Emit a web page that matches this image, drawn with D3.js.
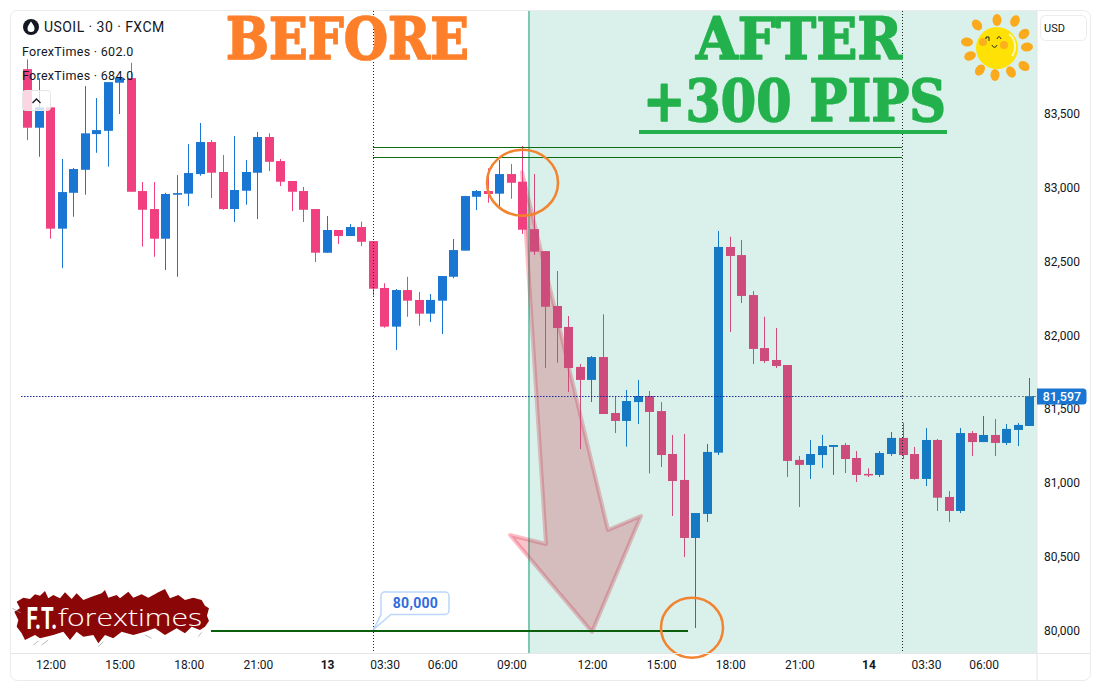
<!DOCTYPE html>
<html><head><meta charset="utf-8">
<style>html,body{margin:0;padding:0;background:#fff;overflow:hidden}svg{display:block}text{font-family:Roboto,"Noto Sans",sans-serif}</style>
<script src="https://cdn.jsdelivr.net/npm/d3@7"></script></head><body><div id="c"></div>
<script>
const opens=[83804,83407,83545,82723,82966,83122,83364,83386,83712,83743,82978,82856,82655,82953,82960,83093,83310,83107,82856,82980,83102,83344,83181,83046,82978,82856,82560,82714,82673,82734,82639,82321,82059,82307,82240,82147,82235,82397,82574,82939,82978,82960,83093,83041,82720,82571,82199,82057,81786,81698,81853,81474,81420,81548,81589,81487,81196,81020,80627,80790,81205,82599,82544,82273,81914,81833,81799,81156,81122,81189,81244,81257,81169,81061,81054,81196,81305,81196,81027,81291,80905,80810,81338,81277,81325,81271,81359,81386];
const highs=[83870,83743,83545,83195,83134,83689,83608,83716,83748,83847,83039,83039,82966,83086,83296,83439,83323,83222,83351,83188,83378,83369,83195,83046,83006,82856,82809,82714,82754,82770,82639,82353,82314,82397,82294,82280,82402,82653,82946,82985,83132,83188,83161,83283,83093,82571,82436,82131,81806,81860,82143,81589,81630,81698,81623,81548,81325,81332,80796,81264,82707,82668,82646,82300,82126,82050,81799,81183,81291,81325,81257,81271,81216,81099,81216,81345,81408,81244,81372,81298,80945,81372,81352,81454,81433,81399,81406,81711];
const lows=[83323,83210,82655,82456,82804,82953,83237,83143,83500,82973,82601,82533,82443,82397,82876,83082,82931,82851,82768,82885,82788,83113,83012,82842,82768,82497,82560,82619,82673,82605,82270,82052,81901,82126,82065,82090,82009,82387,82574,82849,82899,82876,82926,82687,82544,81779,81815,81616,81230,81548,81467,81338,81246,81399,81065,81108,80776,80498,80017,80735,81189,82023,82219,81806,81813,81779,81040,80837,81027,81101,81054,81067,81006,81040,81040,81183,81162,81022,80979,80810,80735,80796,81183,81277,81183,81257,81250,81386];
const closes=[83407,83545,82723,82971,83127,83369,83391,83716,83746,82973,82851,82655,82958,82964,83100,83310,83102,82856,82985,83107,83344,83176,83041,82973,82851,82560,82714,82673,82734,82634,82316,82059,82307,82235,82147,82240,82402,82578,82944,82978,82958,83093,83034,82716,82567,82194,82050,81779,81698,81853,81467,81420,81555,81589,81481,81189,81013,80627,80796,81210,82599,82538,82267,81908,81826,81792,81149,81122,81196,81250,81257,81162,81054,81052,81203,81305,81189,81027,81291,80900,80810,81338,81277,81325,81271,81366,81393,81589];
const priceTicks=[83500,83000,82500,82000,81500,81000,80500,80000];
const timeTickBars=[2,8,14,20,26,31,36,42,49,55,61,67,73,78,83];
const timeTickLabels=["12:00","15:00","18:00","21:00","13","03:30","06:00","09:00","12:00","15:00","18:00","21:00","14","03:30","06:00"];
const topLevels=[83276,83212];
const targetLevel=80000;
const lastPrice=81589;
const lastPriceLabel="81,597";
const bars=d3.range(opens.length);
const W=1103,H=690;
const UP="#1976d2",DOWN="#f0407f";
const svg=d3.select("#c").append("svg").attr("width",W).attr("height",H);
const x=d3.scaleLinear().domain([0,87]).range([27.5,1029.74]);
const y=d3.scaleLinear().domain([80000,83500]).range([630.5,114]);
const fmt=d3.format(",");
// card
svg.append("rect").attr("x",10.5).attr("y",10.5).attr("width",1080).attr("height",670).attr("rx",7).attr("fill","#fff").attr("stroke","#ebebeb");
// before-shade layers
const vx=529;
svg.append("line").attr("x1",vx).attr("x2",vx).attr("y1",11).attr("y2",653).attr("stroke","#91d2be").attr("stroke-width",2);
svg.append("path").attr("d","M522,172L608,530L641,516L592,632L510,535L546,544Z").attr("fill","rgba(235,20,50,.25)").attr("stroke","rgba(235,30,60,.28)").attr("stroke-width",4).attr("stroke-linejoin","round");
// candles
const g=svg.append("g");
g.selectAll("rect.w").data(bars).join("rect").attr("class","w")
 .attr("x",i=>Math.floor(x(i))).attr("width",1)
 .attr("y",i=>y(highs[i])).attr("height",i=>Math.max(1,y(lows[i])-y(highs[i])))
 .attr("fill",i=>closes[i]>=opens[i]?UP:DOWN);
g.selectAll("rect.b").data(bars).join("rect").attr("class","b")
 .attr("x",i=>Math.floor(x(i))-4).attr("width",9)
 .attr("y",i=>y(Math.max(opens[i],closes[i])))
 .attr("height",i=>Math.max(1.5,Math.abs(y(opens[i])-y(closes[i]))))
 .attr("fill",i=>closes[i]>=opens[i]?UP:DOWN);
// after shade
svg.append("rect").attr("x",528).attr("y",11).attr("width",1037-528).attr("height",642).attr("fill","rgba(0,153,112,.147)");
// dotted verticals
[373.5,902.5].forEach(v=>svg.append("line").attr("x1",v).attr("x2",v).attr("y1",11).attr("y2",653).attr("stroke","#222").attr("stroke-dasharray","1,2"));
// price line
const ly=Math.round(y(lastPrice))+.5;
svg.append("line").attr("x1",21).attr("x2",902).attr("y1",ly).attr("y2",ly).attr("stroke","#1a2a9c").attr("stroke-dasharray","1.5,1.5");
svg.append("line").attr("x1",902).attr("x2",1037).attr("y1",ly).attr("y2",ly).attr("stroke","#6b7f98").attr("stroke-dasharray","2,2");
// green levels
topLevels.forEach(p=>{const v=Math.round(y(p))+.5;svg.append("line").attr("x1",373).attr("x2",902).attr("y1",v).attr("y2",v).attr("stroke","#0f6b14").attr("stroke-width",1);});
svg.append("line").attr("x1",211).attr("x2",688).attr("y1",y(targetLevel)+.5).attr("y2",y(targetLevel)+.5).attr("stroke","#0b5e0b").attr("stroke-width",2);
// callout
const cy=y(targetLevel);
svg.append("path").attr("d",`M386,${cy-38.5}H445a4,4 0 0 1 4,4V${cy-20}a4,4 0 0 1 -4,4H391L373.5,${cy-1}L381,${cy-16}V${cy-34.5}a4,4 0 0 1 5,-4Z`).attr("fill","#fff").attr("stroke","#bbd6fb").attr("stroke-width",1.5);
svg.append("text").attr("x",415.5).attr("y",cy-22.5).attr("text-anchor","middle").attr("font-size",14).attr("font-weight",700).attr("letter-spacing",.3).attr("fill","#2f6be0").text(fmt(targetLevel));
// circles
svg.append("ellipse").attr("cx",522.5).attr("cy",182.7).attr("rx",35.5).attr("ry",33).attr("fill","none").attr("stroke","#f28430").attr("stroke-width",2.5);
svg.append("ellipse").attr("cx",692).attr("cy",627.7).attr("rx",31).attr("ry",30).attr("fill","none").attr("stroke","#f28430").attr("stroke-width",2.5);
// axes frames
svg.append("line").attr("x1",1037).attr("x2",1037).attr("y1",11).attr("y2",680).attr("stroke","#e6e6e6");
svg.append("line").attr("x1",11).attr("x2",1090).attr("y1",653.5).attr("y2",653.5).attr("stroke","#e6e6e6");
// price axis
const ya=svg.append("g").attr("transform","translate(1044,0)").call(d3.axisRight(y).tickValues(priceTicks).tickSize(0).tickPadding(0).tickFormat(fmt));
ya.select(".domain").remove();
ya.selectAll("text").attr("font-size",12).attr("fill","#131722").style("font-family","Roboto");
// last price tag
svg.append("path").attr("d",`M1037,${ly-8}H1083a3.5,3.5 0 0 1 3.5,3.5V${ly+4.5}a3.5,3.5 0 0 1 -3.5,3.5H1037Z`).attr("fill","#1976d2");
svg.append("text").attr("x",1062).attr("y",ly+4.5).attr("text-anchor","middle").attr("font-size",12.5).attr("font-weight",500).attr("fill","#fff").text(lastPriceLabel);
// USD
svg.append("rect").attr("x",1040.5).attr("y",15.5).attr("width",46).attr("height",25).attr("rx",5).attr("fill","#fff").attr("stroke","#ececec");
svg.append("text").attr("x",1044).attr("y",32).attr("font-size",11).attr("fill","#131722").text("USD");
// time axis
const xa=svg.append("g").attr("transform","translate(0,654)").call(d3.axisBottom(x).tickValues(timeTickBars).tickSize(0).tickPadding(6).tickFormat((d,i)=>timeTickLabels[i]));
xa.select(".domain").remove();
xa.selectAll("text").attr("font-size",12).attr("fill","#131722").style("font-family","Roboto").attr("font-weight",(d,i)=>timeTickLabels[i].length<3?700:400);
// header
svg.append("circle").attr("cx",31).attr("cy",27).attr("r",8).attr("fill","#131722");
svg.append("path").attr("d","M31,21.5C33,24.5 34.5,26 34.5,28.5A3.5,3.5 0 0 1 27.5,28.5C27.5,26 29,24.5 31,21.5Z").attr("fill","#fff");
svg.append("text").attr("x",44).attr("y",32).attr("font-size",14).attr("letter-spacing",.45).attr("fill","#131722").text("USOIL · 30 · FXCM");
svg.append("text").attr("x",22).attr("y",56).attr("font-size",12.5).attr("letter-spacing",.3).attr("fill","#131722").text("ForexTimes · 602.0");
svg.append("text").attr("x",22).attr("y",80).attr("font-size",12.5).attr("letter-spacing",.3).attr("fill","#131722").text("ForexTimes · 684.0");
svg.append("rect").attr("x",22.5).attr("y",90.5).attr("width",28).attr("height",20).attr("rx",3).attr("fill","rgba(255,255,255,.78)").attr("stroke","#e6e6e6");
svg.append("path").attr("d","M32.5,103L36.5,99L40.5,103").attr("fill","none").attr("stroke","#131722").attr("stroke-width",1.3);
// banners
function banner(t,px,py,len,col){
 svg.append("text").attr("x",px).attr("y",py).attr("font-size",58).attr("font-weight",700)
  .style("font-family","'DejaVu Serif',serif").style("filter",`drop-shadow(.7px .8px 0 #fff) drop-shadow(.7px .8px 0 ${col})`)
  .attr("textLength",len).attr("lengthAdjust","spacingAndGlyphs").attr("fill",col).attr("stroke",col).attr("stroke-width",1.4).attr("stroke-linejoin","round").text(t);
}
banner("BEFORE",226,58.5,243,"#fd7f2a");
banner("AFTER",696,58.5,206,"#22b14c");
banner("+300 PIPS",643,121,303,"#22b14c");
svg.append("rect").attr("x",639).attr("y",130).attr("width",308).attr("height",4).attr("fill","#22b14c");
// sun
const sun=svg.append("g").attr("transform","translate(997,48)");
[[0,-28,0],[18,-27,25],[27,-14,50],[30,-1,85],[27,18,125],[14,24,150],[-2,27,180],[-17,22,215],[-27,8,250],[-30,-6,275],[-20,-23,320]].forEach(r=>{
 sun.append("ellipse").attr("cx",r[0]).attr("cy",r[1]).attr("rx",4.5).attr("ry",6).attr("transform",`rotate(${r[2]} ${r[0]} ${r[1]})`).attr("fill","#fba91d");
});
sun.append("circle").attr("r",21).attr("fill","#ffe106");
sun.append("path").attr("d","M12,-14A16,16 0 0 1 15,8").attr("fill","none").attr("stroke","#fff7b0").attr("stroke-width",2);
sun.append("circle").attr("cx",-14).attr("cy",-6).attr("r",4).attr("fill","#fbb01c");
sun.append("circle").attr("cx",7).attr("cy",-3).attr("r",4).attr("fill","#fbb01c");
sun.append("path").attr("d","M-11,-9V-11H-8V-7M0,-9C1,-12 3,-12 4,-9M-5,-3C-4,0 -1,0 0,-3").attr("fill","none").attr("stroke","#222").attr("stroke-width",1);
// logo
const logo=svg.append("g").attr("transform","translate(5,585) scale(.3333)");
logo.append("polygon").attr("points","35,50 55,38 75,42 90,28 105,32 120,18 130,40 145,30 165,40 180,22 200,42 215,25 235,45 260,35 290,25 300,15 310,38 335,30 345,40 370,20 385,38 410,28 430,38 460,22 480,12 495,40 520,30 540,45 565,38 590,45 600,62 612,70 606,92 612,108 600,125 585,135 560,125 540,145 515,130 480,150 450,130 420,140 385,150 350,140 325,160 300,150 280,175 265,150 235,155 215,140 195,165 175,140 145,150 105,160 90,150 60,165 50,145 35,125 40,105 28,80 45,70").attr("fill","#8b0707");
logo.append("path").attr("d","M22,70L48,84M110,180L130,165M280,185L295,170M580,155L590,142M85,180L100,168M420,150L440,160").attr("stroke","#999").attr("stroke-width",2).attr("fill","none");
svg.append("text").attr("transform","translate(26.5,629) scale(.66,1)").attr("font-size",31).attr("font-weight",700).attr("fill","#fff").text("F.T.");
svg.append("text").attr("x",58).attr("y",625.5).attr("font-size",23).attr("font-weight",300).attr("textLength",144).attr("lengthAdjust","spacingAndGlyphs").attr("fill","#fff").style("font-family","'Open Sans'").text("forextimes");
</script></body></html>
